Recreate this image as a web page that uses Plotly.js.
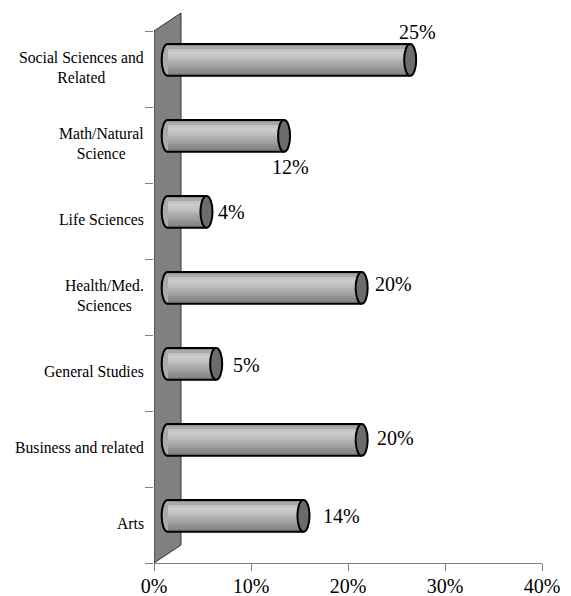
<!DOCTYPE html>
<html><head><meta charset="utf-8">
<script src="https://cdn.plot.ly/plotly-3.0.1.min.js"></script>
<style>html,body{margin:0;padding:0;background:#fff}</style>
</head><body><div id="chart" style="width:571px;height:596px"></div>
<script>
// ---- data ----
const categories = ['Arts', 'Business and related', 'General Studies', 'Health/Med.<br>Sciences', 'Life Sciences', 'Math/Natural<br>Science', 'Social Sciences and<br>Related'];
const values = [14, 20, 5, 20, 4, 12, 25];
const valueLabels = ['14%', '20%', '5%', '20%', '4%', '12%', '25%'];
const xTickVals = [0, 10, 20, 30, 40];
const xTickText = ['0%', '10%', '20%', '30%', '40%'];

// ---- style / pseudo-3D geometry ----
const depthX = 1.41;   // bar axis offset in x (half the wall depth)
const depthY = 0.12;   // bar axis offset upward in category units
const wallX = 2.78;
const wallY = 0.237;
const barH = 0.42;
const capRx = 0.62;
const stripeColors = ['#8e8e8e', '#a8a8a8', '#c4c4c4', '#cdcdcd', '#c6c6c6', '#bcbcbc', '#b2b2b2', '#a8a8a8', '#9e9e9e', '#949494', '#8a8a8a', '#808080'];
const labelShift = [[19, 0], [14, -2], [16, 1], [12, -4], [11, 0], [-13, 31], [-12, -28]]; // px from cap centre
const serif = 'Liberation Serif';

const pos = categories.map((c, i) => i);
const barY = pos.map(p => p + depthY);

const N = stripeColors.length;
const sh = barH / N;
const traces = stripeColors.map((col, k) => ({
  type: 'bar', orientation: 'h',
  y: barY.map(y => y + barH / 2 - (k + 0.5) * sh),
  x: values,
  base: values.map(() => depthX),
  width: sh * 1.08,
  marker: {color: col, line: {width: 0}},
  hoverinfo: 'skip', showlegend: false
}));

const shapes = [];
shapes.push({
  type: 'path', xref: 'x', yref: 'y', layer: 'below',
  path: `M 0,-0.5 L 0,6.5 L ${wallX},${6.5 + wallY} L ${wallX},${-0.5 + wallY} Z`,
  fillcolor: '#808080', line: {color: '#303030', width: 1}
});
values.forEach((v, i) => {
  const yc = barY[i];
  shapes.push({type: 'circle', xref: 'x', yref: 'y', layer: 'below',
    x0: depthX - capRx, x1: depthX + capRx, y0: yc - barH / 2, y1: yc + barH / 2,
    fillcolor: '#aaaaaa', line: {color: '#000', width: 2}});
});
values.forEach((v, i) => {
  const yc = barY[i];
  [yc - barH / 2, yc + barH / 2].forEach(yy => shapes.push({type: 'line', xref: 'x', yref: 'y', layer: 'above',
    x0: depthX, x1: depthX + v, y0: yy, y1: yy, line: {color: '#000', width: 2}}));
  shapes.push({type: 'circle', xref: 'x', yref: 'y', layer: 'above',
    x0: depthX + v - capRx, x1: depthX + v + capRx, y0: yc - barH / 2, y1: yc + barH / 2,
    fillcolor: '#6c6c6c', line: {color: '#000', width: 2}});
});

const annotations = [];
categories.forEach((c, i) => annotations.push({
  text: c, xref: 'paper', x: 0, xanchor: 'right', xshift: -8,
  yref: 'y', y: pos[i], yanchor: 'middle', yshift: 2, showarrow: false, align: 'center',
  font: {family: serif, size: 15.7, color: '#000'}
}));
values.forEach((v, i) => annotations.push({
  text: valueLabels[i], xref: 'x', x: depthX + v, xanchor: 'left', xshift: labelShift[i][0] - 1,
  yref: 'y', y: barY[i], yanchor: 'middle', yshift: -labelShift[i][1], showarrow: false,
  font: {family: serif, size: 20, color: '#000'}
}));

const layout = {
  width: 571, height: 596,
  margin: {l: 154, r: 29, t: 12, b: 33, pad: 0},
  paper_bgcolor: '#fff', plot_bgcolor: 'rgba(0,0,0,0)',
  barmode: 'overlay', bargap: 0,
  showlegend: false,
  font: {family: serif},
  xaxis: {range: [0, 40], tickmode: 'array', tickvals: xTickVals, ticktext: xTickText,
    ticks: 'outside', ticklen: 7, tickcolor: '#808080', tickwidth: 1, ticklabelstandoff: -2,
    showline: true, linecolor: '#808080', linewidth: 1, showgrid: false, zeroline: false,
    tickfont: {family: serif, size: 20, color: '#000'}, fixedrange: true, automargin: false},
  yaxis: {range: [-0.5, 6.75], tickmode: 'array', tickvals: [-0.5, 0.5, 1.5, 2.5, 3.5, 4.5, 5.5, 6.5],
    ticks: 'outside', ticklen: 8, tickcolor: '#808080', tickwidth: 1, showticklabels: false,
    showline: false, showgrid: false, zeroline: false, fixedrange: true, automargin: false},
  shapes: shapes, annotations: annotations
};
Plotly.newPlot('chart', traces, layout, {displayModeBar: false, staticPlot: true});
</script>
</body></html>
